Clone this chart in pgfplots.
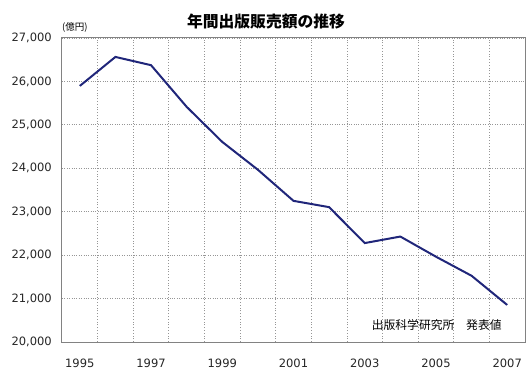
\documentclass[border=0pt]{standalone}
\usepackage{pgfplots}
\pgfplotsset{compat=1.18}
\usepackage{fontspec}
\setmainfont{DejaVu Sans}
\newfontfamily\jp{Noto Sans CJK JP}
\definecolor{navyline}{RGB}{32,38,122}
\definecolor{gridc}{RGB}{150,150,150}
\definecolor{framec}{RGB}{130,130,130}
\begin{document}
\begin{tikzpicture}
\path[use as bounding box] (-62bp,-36bp) rectangle (470bp,342bp);
\begin{axis}[
  scale only axis,
  width=463bp, height=304bp,
  at={(0,0)}, anchor=south west,
  xmin=-0.5, xmax=12.5,
  ymin=20000, ymax=27000,
  xtick={0,2,4,6,8,10,12},
  xticklabels={1995,1997,1999,2001,2003,2005,2007},
  minor xtick={0.5,1.5,2.5,3.5,4.5,5.5,6.5,7.5,8.5,9.5,10.5,11.5},
  ytick={20000,21000,22000,23000,24000,25000,26000,27000},
  scaled y ticks=false,
  /pgf/number format/1000 sep={,},
  /pgf/number format/assume math mode=true,
  major tick length=0pt, minor tick length=0pt,
  xminorgrids=true, ymajorgrids=true,
  grid style={gridc, dotted, line width=0.8bp},
  minor grid style={gridc, dotted, line width=0.8bp},
  axis line style={framec, line width=1bp},
  tick label style={font=\fontsize{11.5bp}{13bp}\selectfont, text=black!85},
  xticklabel style={anchor=center, inner sep=0pt, yshift=-21bp},
  yticklabel style={anchor=east, inner sep=0pt, xshift=-10bp},
  clip=false,
]
\addplot[navyline, line width=2bp] coordinates {
  (0,25896) (1,26564) (2,26374) (3,25415) (4,24607) (5,23966) (6,23250)
  (7,23105) (8,22278) (9,22428) (10,21964) (11,21525) (12,20853)
};
\node[font=\jp\fontsize{9.5bp}{11bp}\selectfont, inner sep=0pt, anchor=west] at (rel axis cs:0,1) [xshift=0bp, yshift=11bp] {(億円)};
\end{axis}
\node[font=\jp\bfseries\fontsize{15.8bp}{17bp}\selectfont, inner sep=0pt] at (204bp,320bp) {年間出版販売額の推移};
\node[font=\jp\fontsize{11.8bp}{13bp}\selectfont, inner sep=0pt] at (374.7bp,17bp) {出版科学研究所　発表値};
\end{tikzpicture}
\end{document}
